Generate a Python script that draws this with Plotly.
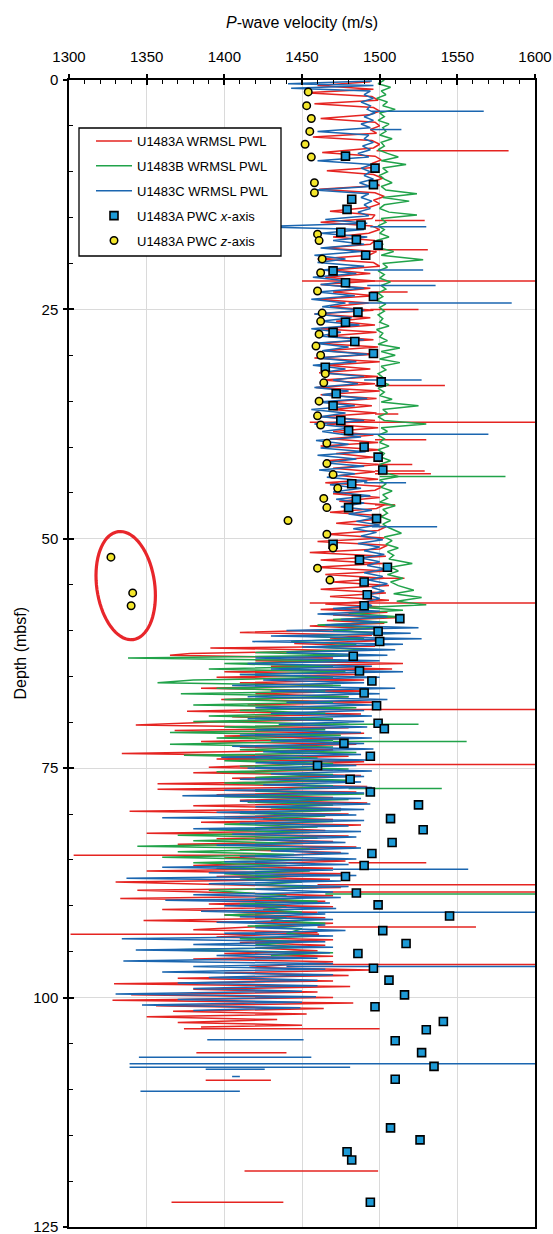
import math
import plotly.graph_objects as go

# ---------------- WRMSL P-wave logger, Hole U1483A (depth m, velocity m/s) ----------------
A_TRACE = [
    (0.2, 1494), (0.6, 1460), (1.0, 1496), (1.4, 1452), (1.8, 1495), (2.2, 1499), (2.6, 1458), (3.0, 1496),
    (3.4, 1500), (3.8, 1493), (4.2, 1462), (4.6, 1497), (5.0, 1500), (5.4, 1494), (5.8, 1498), (6.2, 1457),
    (6.6, 1495), (7.0, 1500), (7.4, 1496), (7.9, 1463), (8.3, 1497), (8.7, 1501), (9.1, 1495), (9.5, 1499),
    (9.9, 1466), (10.3, 1496), (10.7, 1502), (11.1, 1495), (11.5, 1500), (11.9, 1461), (12.3, 1497), (12.7, 1503),
    (13.1, 1496), (13.5, 1500), (13.9, 1493), (14.3, 1468), (14.7, 1497), (15.1, 1495), (15.5, 1462), (15.9, 1495),
    (16.3, 1500), (16.7, 1493), (17.1, 1470), (17.5, 1497), (17.9, 1494), (18.3, 1465), (18.7, 1498), (19.1, 1493),
    (19.5, 1460), (19.9, 1496), (20.3, 1500), (20.7, 1470), (21.1, 1494), (21.5, 1465), (21.9, 1497), (22.3, 1462),
    (22.7, 1494), (23.1, 1470), (23.5, 1497), (23.9, 1460), (24.3, 1493), (24.7, 1468), (25.1, 1496), (25.5, 1458),
    (25.9, 1494), (26.3, 1472), (26.7, 1497), (27.1, 1462), (27.5, 1498), (27.9, 1466), (28.3, 1496), (28.7, 1460),
    (29.1, 1499), (29.5, 1464), (29.9, 1497), (30.3, 1458), (30.7, 1500), (31.1, 1466), (31.5, 1494), (31.9, 1461),
    (32.3, 1499), (32.7, 1463), (33.1, 1497), (33.5, 1459), (33.9, 1500), (34.3, 1462), (34.7, 1498), (35.1, 1466),
    (35.5, 1495), (35.9, 1470), (36.3, 1498), (36.7, 1462), (37.1, 1497), (37.5, 1466), (37.9, 1499), (38.3, 1470),
    (38.7, 1496), (39.1, 1468), (39.5, 1499), (39.9, 1462), (40.3, 1500), (40.7, 1472), (41.1, 1496), (41.5, 1465),
    (41.9, 1499), (42.3, 1470), (42.7, 1497), (43.1, 1474), (43.5, 1499), (43.9, 1465), (44.3, 1502), (44.7, 1497),
    (45.1, 1470), (45.5, 1500), (45.9, 1474), (46.3, 1503), (46.7, 1498), (47.1, 1468), (47.5, 1502), (47.9, 1497),
    (48.3, 1472), (48.7, 1504), (49.1, 1499), (49.5, 1466), (49.9, 1503), (50.3, 1460), (50.7, 1505), (51.1, 1500),
    (51.5, 1455), (51.9, 1504), (52.3, 1462), (52.7, 1502), (53.1, 1458), (53.5, 1505), (53.9, 1465), (54.3, 1503),
    (54.7, 1470), (55.1, 1506), (55.5, 1462), (55.9, 1504), (56.3, 1468), (56.7, 1506), (57.1, 1465),
    (57.4, 1500), (57.7, 1462), (58.0, 1505), (58.3, 1470), (58.6, 1510), (58.9, 1466), (59.2, 1503),
    (59.5, 1455), (59.8, 1498), (60.2, 1410), (60.5, 1495), (60.8, 1468), (61.1, 1500), (61.4, 1445), (61.7, 1497),
    (61.9, 1391), (62.2, 1480), (62.5, 1378), (62.7, 1365), (63.0, 1470), (63.3, 1420), (63.6, 1515), (63.9, 1430),
    (64.2, 1508), (64.5, 1400), (64.8, 1485), (65.1, 1395), (65.4, 1490), (65.7, 1410), (66.0, 1470), (66.3, 1385),
    (66.6, 1492), (66.9, 1420), (67.2, 1480), (67.5, 1398), (67.8, 1500), (68.1, 1415), (68.4, 1475), (68.8, 1376),
    (69.1, 1488), (69.4, 1405), (69.7, 1470), (70.0, 1390), (70.3, 1343), (70.6, 1480), (70.9, 1368), (71.2, 1490),
    (71.5, 1400), (71.8, 1478), (72.1, 1385), (72.4, 1485), (72.7, 1410), (73.0, 1470), (73.4, 1334), (73.7, 1480),
    (74.0, 1395), (74.3, 1490), (74.9, 1390), (75.2, 1470), (75.5, 1380), (75.8, 1488), (76.1, 1405), (76.4, 1478),
    (76.7, 1357), (77.0, 1492), (77.3, 1357), (77.6, 1485), (77.9, 1395), (78.2, 1470), (78.5, 1410), (78.8, 1492),
    (79.1, 1380), (79.4, 1475), (79.7, 1339), (80.0, 1480), (80.3, 1400), (80.6, 1470), (80.9, 1385), (81.2, 1488),
    (81.5, 1420), (81.8, 1465), (82.1, 1350), (82.4, 1480), (82.7, 1395), (83.0, 1470), (83.3, 1370), (83.6, 1485),
    (83.9, 1410), (84.2, 1475), (84.8, 1400), (85.1, 1478), (85.6, 1380), (85.9, 1470), (86.2, 1350), (86.5, 1480),
    (86.8, 1395), (87.1, 1468), (87.4, 1330), (88.0, 1475), (88.3, 1344), (88.9, 1470), (89.2, 1333), (89.5, 1465),
    (89.8, 1390), (90.1, 1470), (90.4, 1360), (90.7, 1460), (91.0, 1400), (91.3, 1465), (91.6, 1348), (91.9, 1470),
    (92.6, 1380), (92.9, 1460), (93.4, 1395), (93.7, 1470), (94.0, 1410), (94.3, 1465), (94.6, 1420), (94.9, 1460),
    (95.2, 1400), (95.5, 1470), (95.8, 1380), (96.1, 1470), (96.7, 1416), (97.0, 1494), (97.3, 1400), (97.6, 1480),
    (97.9, 1370), (98.2, 1470), (98.5, 1329), (98.8, 1481), (99.1, 1380), (99.4, 1460), (99.7, 1340), (100.0, 1470),
    (100.3, 1328), (100.6, 1483), (100.9, 1356), (101.2, 1464), (101.5, 1367), (101.8, 1453), (102.1, 1350),
    (102.4, 1434), (102.7, 1370), (103.0, 1450), (103.2, 1385),
]
# single-sample outliers and short isolated pieces: (depth, from velocity, to velocity)
A_SPIKES = [
    (7.7, 1498, 1583), (15.3, 1497, 1529), (18.5, 1497, 1531), (21.9, 1450, 1600), (23.1, 1494, 1518),
    (25.0, 1494, 1525), (33.3, 1497, 1542), (36.4, 1497, 1512), (37.3, 1455, 1600), (39.2, 1497, 1530),
    (41.9, 1497, 1521), (42.6, 1497, 1529), (42.9, 1497, 1533), (46.3, 1497, 1510), (54.3, 1500, 1516),
    (57.0, 1455, 1600), (68.6, 1460, 1600), (74.6, 1450, 1600), (84.5, 1303, 1420), (85.3, 1480, 1530),
    (87.7, 1460, 1600), (88.5, 1460, 1600), (92.3, 1460, 1562), (93.1, 1301, 1461), (96.4, 1440, 1600),
    (103.4, 1374, 1500), (106.0, 1382, 1440), (109.0, 1388, 1430), (118.9, 1413, 1499), (122.3, 1366, 1438),
]

# ---------------- Hole U1483B ----------------
B_TRACE = [
    (0.0, 1503), (0.4, 1499), (0.8, 1507), (1.2, 1501), (1.6, 1504), (2.0, 1498), (2.4, 1505), (2.8, 1502),
    (3.2, 1510), (3.6, 1500), (4.0, 1503), (4.4, 1499), (4.8, 1506), (5.2, 1502), (5.6, 1504), (6.0, 1500),
    (6.4, 1508), (6.8, 1501), (7.2, 1503), (7.6, 1499), (8.0, 1505), (8.4, 1512), (8.8, 1501), (9.2, 1517),
    (9.6, 1502), (10.0, 1505), (10.4, 1500), (10.8, 1503), (11.2, 1508), (11.6, 1501), (12.0, 1504), (12.4, 1524),
    (12.8, 1502), (13.2, 1519), (13.6, 1503), (14.0, 1500), (14.4, 1506), (14.7, 1524), (15.1, 1501), (15.5, 1504),
    (15.9, 1499), (16.3, 1503), (16.7, 1500), (17.1, 1506), (17.5, 1498), (17.9, 1502), (18.3, 1500), (18.7, 1509),
    (19.1, 1501), (19.6, 1528), (20.0, 1502), (20.4, 1505), (20.8, 1499), (21.2, 1503), (21.6, 1500), (22.0, 1507),
    (22.4, 1501), (22.8, 1504), (23.2, 1499), (23.6, 1502), (24.0, 1498), (24.4, 1504), (24.8, 1500), (25.2, 1503),
    (25.6, 1499), (26.0, 1502), (26.4, 1500), (26.8, 1506), (27.2, 1498), (27.6, 1502), (28.0, 1500), (28.4, 1505),
    (28.8, 1499), (29.2, 1513), (29.6, 1501), (30.0, 1510), (30.4, 1500), (30.8, 1513), (31.2, 1501), (31.6, 1504),
    (32.0, 1499), (32.4, 1502), (32.8, 1500), (33.2, 1506), (33.6, 1499), (34.0, 1503), (34.4, 1500), (34.8, 1508),
    (35.1, 1501), (35.5, 1525), (35.9, 1502), (36.3, 1505), (36.7, 1499), (37.1, 1503), (37.5, 1530), (37.9, 1501),
    (38.3, 1505), (38.7, 1499), (39.1, 1503), (39.5, 1500), (39.9, 1506), (40.3, 1499), (40.7, 1503), (41.1, 1501),
    (41.5, 1507), (41.9, 1500), (42.3, 1504), (42.7, 1501), (43.2, 1512), (43.6, 1500), (44.0, 1504), (44.4, 1501),
    (44.8, 1508), (45.2, 1502), (45.6, 1505), (46.0, 1500), (46.4, 1510), (46.8, 1502), (47.2, 1505), (47.6, 1501),
    (48.0, 1507), (48.4, 1502), (48.8, 1506), (49.4, 1514), (49.8, 1503), (50.2, 1508), (50.6, 1504), (51.0, 1512),
    (51.4, 1505), (51.8, 1509), (52.2, 1506), (52.7, 1521), (53.1, 1507), (53.5, 1512), (53.9, 1505), (54.3, 1515),
    (54.7, 1507), (55.1, 1512), (55.6, 1522), (56.0, 1509), (56.4, 1527), (56.8, 1511), (57.2, 1530),
    (57.5, 1490), (57.8, 1515), (58.1, 1480), (58.5, 1512), (58.8, 1470), (59.1, 1505), (59.4, 1460), (59.7, 1500),
    (60.0, 1470), (60.3, 1510), (60.6, 1450), (60.9, 1490), (61.2, 1443), (61.5, 1485), (61.8, 1460), (62.1, 1492),
    (62.4, 1420), (62.7, 1480), (63.0, 1338), (63.3, 1483), (63.6, 1400), (63.9, 1470), (64.2, 1390), (64.5, 1478),
    (64.8, 1410), (65.1, 1470), (65.4, 1380), (65.7, 1357), (66.0, 1475), (66.3, 1395), (66.6, 1465), (66.9, 1372),
    (67.2, 1480), (67.5, 1400), (67.8, 1470), (68.1, 1380), (68.4, 1485), (68.7, 1410), (69.0, 1465), (69.3, 1390),
    (69.6, 1470), (69.9, 1380), (70.2, 1480), (70.5, 1400), (70.8, 1465), (71.1, 1365), (71.4, 1475), (71.7, 1395),
    (72.0, 1470), (72.4, 1365), (72.7, 1470), (73.0, 1410), (73.3, 1485), (73.6, 1374), (73.9, 1460), (74.2, 1400),
    (74.5, 1470), (74.8, 1410), (75.1, 1480), (75.4, 1395), (75.7, 1470), (76.0, 1420), (76.3, 1480), (76.6, 1400),
    (76.9, 1470), (77.5, 1420), (77.8, 1490), (78.1, 1400), (78.4, 1480), (78.7, 1415), (79.0, 1470), (79.3, 1430),
    (79.6, 1475), (79.9, 1410), (80.2, 1465), (80.5, 1425), (80.8, 1470), (81.1, 1400), (81.4, 1460), (81.7, 1390),
    (82.0, 1455), (82.3, 1370), (82.6, 1460), (82.9, 1380), (83.2, 1450), (83.5, 1344), (83.8, 1455), (84.1, 1370),
    (84.4, 1445), (84.7, 1360), (85.0, 1450), (85.3, 1380), (85.6, 1440), (85.9, 1395), (86.2, 1455), (86.5, 1400),
    (86.8, 1440), (87.1, 1410), (87.4, 1450), (87.7, 1420), (88.0, 1460), (88.3, 1390), (88.9, 1440), (89.2, 1420),
    (89.5, 1460), (89.8, 1410), (90.1, 1440), (90.4, 1425), (90.7, 1450), (91.0, 1400), (91.3, 1440), (91.6, 1430),
    (91.9, 1465), (92.2, 1415), (92.5, 1450), (93.0, 1440), (93.3, 1460), (93.6, 1410), (93.9, 1450), (94.2, 1420),
    (94.5, 1455), (94.8, 1360), (95.1, 1470), (95.4, 1430),
]
B_SPIKES = [
    (43.2, 1500, 1581), (70.2, 1470, 1525), (72.1, 1470, 1556), (77.2, 1480, 1540), (88.7, 1465, 1600),
]

# ---------------- Hole U1483C ----------------
C_TRACE = [
    (0.1, 1495), (0.4, 1441), (0.6, 1496), (0.9, 1443), (1.2, 1494), (1.6, 1490), (2.0, 1496), (2.4, 1488),
    (2.8, 1494), (3.2, 1492), (3.6, 1497), (4.0, 1490), (4.4, 1496), (4.8, 1488), (5.2, 1494), (5.6, 1460),
    (6.0, 1493), (6.4, 1490), (6.8, 1496), (7.2, 1489), (7.6, 1494), (8.0, 1486), (8.4, 1493), (8.8, 1460),
    (9.2, 1495), (9.6, 1488), (10.0, 1494), (10.4, 1490), (10.8, 1496), (11.2, 1487), (11.6, 1494), (12.0, 1458),
    (12.4, 1493), (12.8, 1488), (13.2, 1495), (13.6, 1490), (14.0, 1494), (14.4, 1486), (14.8, 1493), (15.2, 1465),
    (15.6, 1492), (16.0, 1420), (16.3, 1490), (16.7, 1462), (17.1, 1492), (17.5, 1470), (17.9, 1490),
    (18.3, 1462), (18.7, 1488), (19.1, 1458), (19.5, 1478), (19.9, 1460), (20.3, 1490), (20.7, 1463), (21.1, 1485),
    (21.5, 1457), (21.9, 1480), (22.3, 1462), (22.7, 1490), (23.1, 1460), (23.5, 1484), (23.9, 1456), (24.3, 1478),
    (24.7, 1463), (25.1, 1490), (25.5, 1458), (25.9, 1482), (26.3, 1462), (26.7, 1487), (27.1, 1456), (27.5, 1475),
    (27.9, 1461), (28.3, 1490), (28.7, 1458), (29.1, 1480), (29.5, 1463), (29.9, 1492), (30.3, 1460), (30.7, 1485),
    (31.1, 1457), (31.5, 1478), (31.9, 1462), (32.3, 1490), (32.7, 1470), (33.1, 1486), (33.5, 1458), (33.9, 1480),
    (34.3, 1463), (34.7, 1492), (35.1, 1460), (35.5, 1484), (35.9, 1456), (36.3, 1478), (36.7, 1462), (37.1, 1490),
    (37.5, 1458), (37.9, 1482), (38.3, 1463), (38.9, 1488), (39.3, 1459), (39.7, 1480), (40.1, 1462), (40.5, 1491),
    (40.9, 1460), (41.3, 1485), (41.7, 1464), (42.1, 1490), (42.5, 1461), (42.9, 1484), (43.3, 1466), (43.7, 1492),
    (44.1, 1468), (44.5, 1488), (44.9, 1470), (45.3, 1494), (45.7, 1472), (46.1, 1490), (46.5, 1475), (46.9, 1495),
    (47.3, 1480), (47.7, 1497), (48.1, 1485), (48.5, 1500), (48.9, 1483), (49.3, 1498), (49.7, 1488), (50.1, 1502),
    (50.5, 1486), (50.9, 1500), (51.3, 1490), (51.7, 1503), (52.1, 1488), (52.5, 1500), (52.9, 1492), (53.3, 1504),
    (53.7, 1490), (54.1, 1502), (54.5, 1493), (54.9, 1505), (55.3, 1495), (55.7, 1503), (56.1, 1492), (56.5, 1500),
    (56.9, 1490), (57.3, 1495),
    (57.6, 1470), (57.9, 1500), (58.2, 1460), (58.5, 1505), (58.8, 1475), (59.1, 1500), (59.4, 1465),
    (59.7, 1525), (60.0, 1440), (60.3, 1520), (60.6, 1430), (60.9, 1527), (61.2, 1418), (61.5, 1515), (61.8, 1450),
    (62.1, 1510), (62.4, 1440), (62.7, 1505), (63.0, 1420), (63.3, 1500), (63.6, 1415), (63.9, 1495), (64.2, 1430),
    (64.5, 1515), (64.8, 1410), (65.1, 1500), (65.4, 1425), (65.7, 1490), (66.0, 1405), (66.3, 1510), (66.6, 1430),
    (66.9, 1500), (67.2, 1415), (67.5, 1505), (67.8, 1440), (68.1, 1495), (68.4, 1420), (68.7, 1490), (69.0, 1430),
    (69.3, 1495), (69.6, 1415), (69.9, 1490), (70.2, 1435), (70.5, 1492), (70.8, 1420), (71.1, 1488), (71.4, 1410),
    (71.7, 1495), (72.0, 1430), (72.3, 1490), (72.6, 1405), (72.9, 1496), (73.2, 1425), (73.5, 1488), (73.8, 1398),
    (74.1, 1492), (74.4, 1420), (74.7, 1485), (75.0, 1415), (75.3, 1495), (75.6, 1430), (75.9, 1490), (76.2, 1410),
    (76.5, 1488), (76.8, 1425), (77.1, 1495), (77.4, 1400), (77.7, 1490), (78.0, 1373), (78.3, 1488), (78.6, 1410),
    (78.9, 1494), (79.2, 1420), (79.5, 1490), (79.8, 1395), (80.1, 1485), (80.4, 1360), (80.7, 1490), (81.0, 1410),
    (81.3, 1480), (81.6, 1380), (81.9, 1488), (82.2, 1405), (82.5, 1485), (82.8, 1420), (83.1, 1478), (83.4, 1395),
    (83.7, 1488), (84.0, 1430), (84.3, 1480), (84.6, 1410), (84.9, 1485), (85.2, 1400), (85.5, 1480), (85.8, 1360),
    (86.1, 1470), (86.4, 1390), (86.7, 1485), (87.0, 1337), (87.3, 1475), (87.6, 1390), (87.9, 1480), (88.2, 1420),
    (88.5, 1470), (88.8, 1380), (89.1, 1475), (89.4, 1362), (89.7, 1468), (90.0, 1400), (90.3, 1472), (90.6, 1385),
    (90.9, 1465), (91.2, 1410), (91.5, 1470), (91.8, 1395), (92.1, 1465), (92.4, 1420), (92.7, 1478), (93.0, 1400),
    (93.3, 1470), (93.6, 1334), (93.9, 1465), (94.2, 1380), (94.5, 1470), (94.8, 1343), (95.1, 1468), (95.4, 1395),
    (95.7, 1460), (96.0, 1335), (96.3, 1470), (96.6, 1380), (96.9, 1465), (97.2, 1360), (97.5, 1470), (97.8, 1390),
    (98.1, 1460), (98.4, 1370), (98.7, 1460), (99.0, 1380), (99.3, 1450), (99.6, 1330), (99.9, 1459), (100.2, 1370),
    (100.5, 1450), (100.8, 1347), (101.1, 1449), (101.4, 1380),
]
C_SPIKES = [
    (3.4, 1495, 1567), (5.4, 1494, 1514), (16.0, 1494, 1530), (20.7, 1490, 1528), (22.4, 1492, 1536),
    (24.3, 1480, 1585), (32.7, 1490, 1527), (38.6, 1475, 1570), (43.9, 1490, 1517), (48.7, 1495, 1537),
    (86.0, 1470, 1557), (90.7, 1460, 1600), (96.6, 1440, 1600), (104.6, 1389, 1451), (106.5, 1345, 1456),
    (107.2, 1339, 1600), (107.6, 1339, 1481), (107.8, 1388, 1426), (108.6, 1405, 1410), (110.2, 1346, 1410),
]

# ---------------- discrete P-wave caliper (PWC), Hole U1483A ----------------
PWC_X_DEPTH = [8.3, 9.6, 11.4, 13.0, 14.1, 15.8, 16.6, 17.4, 18.0, 19.1, 20.8, 22.1, 23.6, 25.3, 26.4, 27.5,
               28.5, 29.8, 31.3, 32.9, 34.2, 35.5, 37.1, 38.2, 40.0, 41.1, 42.5, 44.0, 45.7, 46.6, 47.8, 50.6,
               52.3, 53.1, 54.7, 56.1, 57.3, 58.7, 60.1, 61.2, 62.8, 64.4, 65.5, 66.8, 68.2, 70.1, 70.7, 72.3,
               73.7, 74.7, 76.2, 77.6, 79.0, 80.5, 81.7, 83.1, 84.3, 85.6, 86.8, 88.6, 89.9, 91.1, 92.7, 94.1,
               95.2, 96.8, 98.1, 99.7, 101.0, 102.6, 103.5, 104.7, 106.0, 107.5, 108.9, 114.2, 115.5, 116.8,
               117.7, 122.3]
PWC_X_VEL = [1478, 1497, 1496, 1482, 1479, 1488, 1475, 1485, 1499, 1491, 1470, 1478, 1496, 1486, 1478, 1470,
             1484, 1496, 1465, 1501, 1472, 1470, 1475, 1480, 1490, 1499, 1502, 1482, 1485, 1480, 1498, 1470,
             1487, 1505, 1490, 1492, 1490, 1513, 1499, 1500, 1483, 1487, 1495, 1490, 1498, 1499, 1503, 1477,
             1494, 1460, 1481, 1494, 1525, 1507, 1528, 1508, 1495, 1490, 1478, 1485, 1499, 1545, 1502, 1517,
             1486, 1496, 1506, 1516, 1497, 1541, 1530, 1510, 1527, 1535, 1510, 1507, 1526, 1479,
             1482, 1494]

PWC_Z_DEPTH = [1.3, 2.8, 4.2, 5.6, 7.0, 8.4, 11.2, 12.3, 16.8, 17.5, 19.5, 21.0, 23.0, 25.4, 26.3, 27.7,
               29.0, 30.0, 32.0, 33.0, 35.0, 36.6, 37.6, 39.6, 41.8, 43.0, 44.5, 45.6, 46.6, 48.0, 49.5, 51.0,
               52.0, 53.2, 54.5, 55.9, 57.3]
PWC_Z_VEL = [1454, 1453, 1456, 1455, 1452, 1456, 1458, 1458, 1460, 1461, 1463, 1462, 1460, 1463, 1462, 1461,
             1459, 1462, 1465, 1464, 1461, 1460, 1462, 1466, 1466, 1470, 1473, 1464, 1466, 1441, 1466, 1470,
             1327, 1460, 1468, 1341, 1340]

# red ring drawn around the three low z-axis readings: centre (m/s, m), semi-axes (px), tilt (deg)
RING_CENTER = (1336.5, 55.1)
RING_SEMI_AXES_PX = (29.0, 54.5)
RING_TILT_DEG = 8.0

X_RANGE = [1300, 1600]
Y_RANGE = [125, 0]
X_TICKS = [1300, 1350, 1400, 1450, 1500, 1550, 1600]
Y_TICKS = [0, 25, 50, 75, 100, 125]

RED = "#e52421"
GREEN = "#21a34a"
BLUE = "#1b66b0"
CYAN = "#1d9ad6"
YELLOW = "#f3e62b"

W, H = 553, 1234
MARGIN = dict(l=69, r=18, t=80, b=7, autoexpand=False)
PLOT_W = W - MARGIN["l"] - MARGIN["r"]
PLOT_H = H - MARGIN["t"] - MARGIN["b"]
FONT = "Liberation Sans, Arial, Helvetica, sans-serif"

# legend frame, in pixels from the top-left corner of the page
LEGEND_BOX = (79, 128, 281, 256)


def line_xy(trace, spikes):
    xs = [v for _, v in trace]
    ys = [d for d, _ in trace]
    for d, v0, v1 in spikes:
        xs += [None, v0, v1]
        ys += [None, d, d]
    return xs, ys


def paper_x(px):
    return (px - MARGIN["l"]) / PLOT_W


def paper_y(py):
    return 1 - (py - MARGIN["t"]) / PLOT_H


fig = go.Figure()

for name, trace, spikes, color in [
    ("U1483A WRMSL PWL", A_TRACE, A_SPIKES, RED),
    ("U1483B WRMSL PWL", B_TRACE, B_SPIKES, GREEN),
    ("U1483C WRMSL PWL", C_TRACE, C_SPIKES, BLUE),
]:
    xs, ys = line_xy(trace, spikes)
    fig.add_trace(go.Scatter(x=xs, y=ys, mode="lines", name=name, legendgroup=name,
                             line=dict(color=color, width=1.5), connectgaps=False))

fig.add_trace(go.Scatter(x=PWC_X_VEL, y=PWC_X_DEPTH, mode="markers", name="U1483A PWC <i>x</i>-axis",
                         legendgroup="px",
                         marker=dict(symbol="square", size=8, color=CYAN, line=dict(color="black", width=1.6))))
fig.add_trace(go.Scatter(x=PWC_Z_VEL, y=PWC_Z_DEPTH, mode="markers", name="U1483A PWC <i>z</i>-axis",
                         legendgroup="pz",
                         marker=dict(symbol="circle", size=7.5, color=YELLOW, line=dict(color="black", width=1.5))))

# companion axes carry the outward half of each major tick
fig.add_trace(go.Scatter(x=[None], y=[None], xaxis="x2", yaxis="y2", showlegend=False, hoverinfo="skip"))

# tilted ring built in pixel space, then mapped back to data units
px_per_v = PLOT_W / (X_RANGE[1] - X_RANGE[0])
px_per_d = PLOT_H / (Y_RANGE[0] - Y_RANGE[1])
a, b = RING_SEMI_AXES_PX
t = math.radians(RING_TILT_DEG)
pts = []
for k in range(73):
    th = 2 * math.pi * k / 72
    ex, ey = a * math.cos(th), b * math.sin(th)
    rx = ex * math.cos(t) - ey * math.sin(t)
    ry = ex * math.sin(t) + ey * math.cos(t)
    pts.append((RING_CENTER[0] + rx / px_per_v, RING_CENTER[1] - ry / px_per_d))
path = "M " + " L ".join(f"{x:.3f},{y:.3f}" for x, y in pts) + " Z"
fig.add_shape(type="path", path=path, xref="x", yref="y", line=dict(color="#e8262b", width=3.2))

# white legend frame
bx0, by0, bx1, by1 = LEGEND_BOX
fig.add_shape(type="rect", xref="paper", yref="paper", layer="above",
              x0=paper_x(bx0), x1=paper_x(bx1), y0=paper_y(by1), y1=paper_y(by0),
              fillcolor="white", line=dict(color="black", width=1.3))

axis_font = dict(family=FONT, size=15, color="black")
fig.update_layout(
    width=W, height=H, margin=MARGIN, autosize=False,
    paper_bgcolor="white", plot_bgcolor="white",
    font=dict(family=FONT, color="black"),
    showlegend=True,
    legend=dict(x=paper_x(91), y=paper_y(126), xanchor="left", yanchor="top",
                bgcolor="rgba(0,0,0,0)", borderwidth=0,
                font=dict(family=FONT, size=13, color="black"),
                tracegroupgap=5, traceorder="grouped", itemwidth=36),
    xaxis=dict(range=X_RANGE, side="top", tickvals=X_TICKS, ticks="inside", ticklen=5, tickwidth=1.5,
               tickcolor="black", showgrid=True, gridcolor="#dadada", gridwidth=1, zeroline=False,
               showline=True, linecolor="black", linewidth=1.5, mirror=True, automargin=False,
               ticklabeloverflow="allow",
               minor=dict(dtick=10, ticks="inside", ticklen=4, tickwidth=1, tickcolor="black", showgrid=False),
               tickfont=axis_font, ticklabelstandoff=10),
    yaxis=dict(range=Y_RANGE, tickvals=Y_TICKS, ticks="inside", ticklen=5, tickwidth=1.5,
               tickcolor="black", showgrid=True, gridcolor="#dadada", gridwidth=1, zeroline=False,
               showline=True, linecolor="black", linewidth=1.5, mirror=True, automargin=False,
               ticklabeloverflow="allow",
               minor=dict(dtick=5, ticks="inside", ticklen=4, tickwidth=1, tickcolor="black", showgrid=False),
               tickfont=axis_font, ticklabelstandoff=6),
    xaxis2=dict(range=X_RANGE, overlaying="x", side="top", anchor="y2", tickvals=X_TICKS, ticks="outside",
                ticklen=5, tickwidth=1.5, tickcolor="black", showticklabels=False, showgrid=False,
                zeroline=False, showline=False, automargin=False),
    yaxis2=dict(range=Y_RANGE, overlaying="y", side="left", anchor="x2", tickvals=Y_TICKS, ticks="outside",
                ticklen=5, tickwidth=1.5, tickcolor="black", showticklabels=False, showgrid=False,
                zeroline=False, showline=False, automargin=False),
)

fig.add_annotation(text="<i>P</i>-wave velocity (m/s)", xref="paper", yref="paper", x=0.5, y=1,
                   yanchor="middle", yshift=58, showarrow=False, font=dict(family=FONT, size=16, color="black"))
fig.add_annotation(text="Depth (mbsf)", xref="paper", yref="paper", x=0, y=0.5, xanchor="center",
                   xshift=-49, textangle=-90, showarrow=False, font=dict(family=FONT, size=16, color="black"))

fig.write_html("out.html", config={"responsive": False})
